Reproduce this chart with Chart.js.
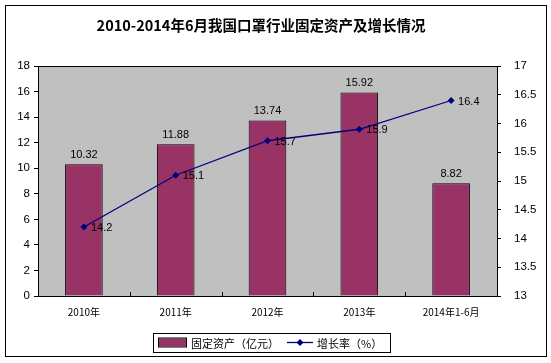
<!DOCTYPE html>
<html>
<head>
<meta charset="utf-8">
<script src="https://cdn.jsdelivr.net/npm/chart.js@4"></script>
<style>
  html, body { margin: 0; padding: 0; background: #fff; }
  #wrap { width: 551px; height: 363px; }
</style>
</head>
<body>
<div id="wrap"><canvas id="myChart" width="551" height="363"></canvas></div>
<script>
const title = '2010-2014年6月我国口罩行业固定资产及增长情况';
const labels = ['2010年', '2011年', '2012年', '2013年', '2014年1-6月'];
const assets = [10.32, 11.88, 13.74, 15.92, 8.82];
const growth = [14.2, 15.1, 15.7, 15.9, 16.4];

const cjk = '"Noto Sans CJK SC", "Liberation Sans", sans-serif';
const latin = '"Liberation Sans", Arial, sans-serif';

// draws the plot background, borders, title, value labels and a boxed legend
const frame = {
    id: 'frame',
    beforeDraw(chart) {
        const { ctx, chartArea: a } = chart;
        ctx.save();
        ctx.fillStyle = '#c0c0c0';
        ctx.fillRect(a.left, a.top, a.right - a.left, a.bottom - a.top);
        ctx.restore();
    },
    afterDatasetsDraw(chart) {
        const { ctx, chartArea: a } = chart;
        ctx.save();
        ctx.strokeStyle = '#000';
        ctx.lineWidth = 1;
        ctx.strokeRect(Math.round(a.left) + 0.5, Math.round(a.top) + 0.5, Math.round(a.right - a.left), Math.round(a.bottom - a.top));
        // inward category ticks on the x axis
        const step = (a.right - a.left) / labels.length;
        ctx.beginPath();
        for (let i = 1; i < labels.length; i++) {
            const px = Math.round(a.left + step * i) + 0.5;
            ctx.moveTo(px, a.bottom);
            ctx.lineTo(px, a.bottom - 4);
        }
        ctx.stroke();
        // outer chart border
        ctx.strokeRect(5.5, 5.5, 541, 351);

        // title
        ctx.fillStyle = '#000';
        ctx.font = 'bold 14.5px ' + cjk;
        ctx.textAlign = 'center';
        ctx.textBaseline = 'middle';
        ctx.fillText(title, 261, 25);

        // value labels
        ctx.font = '11px ' + latin;
        ctx.textAlign = 'center';
        ctx.textBaseline = 'bottom';
        chart.getDatasetMeta(0).data.forEach((el, i) => {
            ctx.fillText(assets[i].toFixed(2), el.x, el.y - 4);
        });
        ctx.textAlign = 'left';
        ctx.textBaseline = 'middle';
        chart.getDatasetMeta(1).data.forEach((el, i) => {
            ctx.fillText(String(growth[i]), el.x + 7, el.y + 1);
        });

        // legend
        const ds = chart.data.datasets;
        ctx.font = '11px ' + cjk;
        const t0 = ds[0].label, t1 = ds[1].label;
        const w0 = ctx.measureText(t0).width, w1 = ctx.measureText(t1).width;
        const total = 5 + 28 + 5 + w0 + 8 + 26 + 4 + w1 + 8;
        let lx = 153;
        const ly = 333, lh = 19, cy = ly + lh / 2;
        ctx.strokeRect(lx + 0.5, ly + 0.5, Math.round(total), lh);
        let x = lx + 5;
        ctx.fillStyle = '#993366';
        ctx.fillRect(x, cy - 4, 28, 8);
        ctx.strokeRect(x + 0.5, cy - 4.5, 28, 9);
        x += 28 + 5;
        ctx.fillStyle = '#000';
        ctx.fillText(t0, x, cy + 1);
        x += w0 + 8;
        ctx.strokeStyle = '#000080';
        ctx.lineWidth = 1.3;
        ctx.beginPath(); ctx.moveTo(x, cy); ctx.lineTo(x + 26, cy); ctx.stroke();
        ctx.fillStyle = '#000080';
        const mx = x + 13;
        ctx.beginPath(); ctx.moveTo(mx, cy - 3.5); ctx.lineTo(mx + 3.5, cy); ctx.lineTo(mx, cy + 3.5); ctx.lineTo(mx - 3.5, cy); ctx.closePath(); ctx.fill();
        x += 26 + 4;
        ctx.fillStyle = '#000';
        ctx.fillText(t1, x, cy + 1);
        ctx.restore();
    }
};

new Chart(document.getElementById('myChart'), {
    type: 'bar',
    data: {
        labels: labels,
        datasets: [
            {
                type: 'bar',
                label: '固定资产（亿元）',
                data: assets,
                backgroundColor: '#993366',
                borderColor: '#000',
                borderWidth: 1,
                barPercentage: 0.82,
                categoryPercentage: 0.5,
                yAxisID: 'y',
                order: 2,
            },
            {
                type: 'line',
                label: '增长率（%）',
                data: growth,
                borderColor: '#000080',
                backgroundColor: '#000080',
                borderWidth: 1.3,
                pointStyle: 'rectRot',
                pointRadius: 3.5,
                pointBackgroundColor: '#000080',
                pointBorderWidth: 0,
                tension: 0,
                yAxisID: 'y1',
                order: 1,
            },
        ],
    },
    options: {
        responsive: false,
        animation: false,
        events: [],
        layout: { padding: { left: 0, right: 0, top: 66, bottom: 37 } },
        scales: {
            x: {
                grid: { display: false, drawTicks: false },
                border: { display: false },
                ticks: {
                    color: '#000',
                    padding: 10,
                    font: { family: cjk, size: 10 },
                },
                afterFit: (s) => { s.height = 30; },
            },
            y: {
                position: 'left',
                min: 0,
                max: 18,
                grid: { drawOnChartArea: false, color: '#000', tickLength: 4 },
                border: { display: false },
                ticks: {
                    stepSize: 2,
                    color: '#000',
                    padding: 4,
                    font: { family: latin, size: 11.5 },
                },
                afterFit: (s) => { s.width = 38; },
            },
            y1: {
                position: 'right',
                min: 13,
                max: 17,
                grid: { drawOnChartArea: false, color: '#000', tickLength: 4 },
                border: { display: false },
                ticks: {
                    stepSize: 0.5,
                    color: '#000',
                    padding: 13,
                    font: { family: latin, size: 11.5 },
                    callback: (v) => String(v),
                },
                afterFit: (s) => { s.width = 54; },
            },
        },
        plugins: {
            title: { display: false },
            legend: { display: false },
            tooltip: { enabled: false },
        },
    },
    plugins: [frame],
});
</script>
</body>
</html>
